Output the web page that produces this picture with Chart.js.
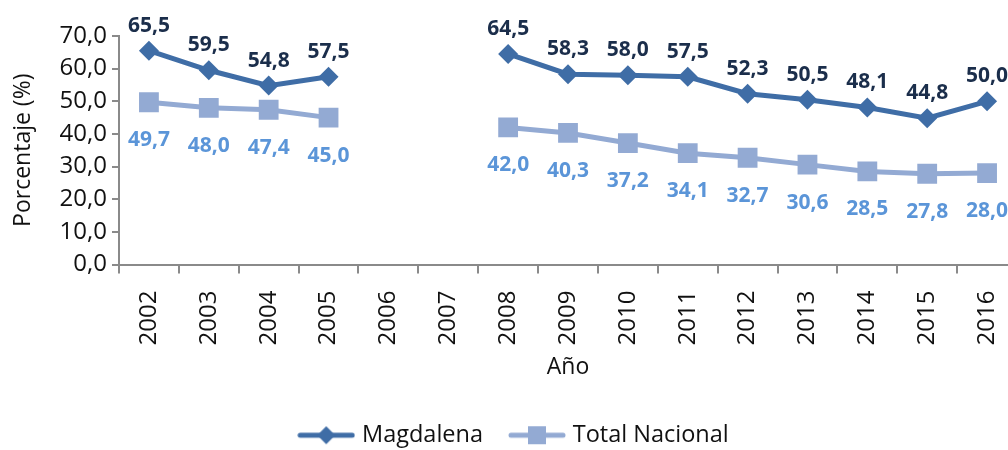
<!DOCTYPE html>
<html>
<head>
<meta charset="utf-8">
<script src="https://cdn.jsdelivr.net/npm/chart.js@4"></script>
<style>
  html, body { margin: 0; padding: 0; background: #fff; overflow: hidden; }
  #wrap { width: 1031px; height: 450px; }
</style>
</head>
<body>
<div id="wrap"><canvas id="chart" width="1031" height="450"></canvas></div>
<script>
// datos
const years = ["2002", "2003", "2004", "2005", "2006", "2007", "2008", "2009",
  "2010", "2011", "2012", "2013", "2014", "2015", "2016"];
const magdalena = [65.5, 59.5, 54.8, 57.5, null, null, 64.5, 58.3, 58.0, 57.5, 52.3, 50.5, 48.1, 44.8, 50.0];
const totalNacional = [49.7, 48.0, 47.4, 45.0, null, null, 42.0, 40.3, 37.2, 34.1, 32.7, 30.6, 28.5, 27.8, 28.0];
const yTicks = [0, 10, 20, 30, 40, 50, 60, 70];

const FONT = "'Open Sans', sans-serif";
const colMag = "#3F6DA6";
const colTot = "#93AAD3";

const fmt = v => v.toFixed(1).replace(".", ",");

// icono de leyenda: línea con marcador
function legendIcon(color, shape) {
  const c = document.createElement("canvas");
  c.width = 58; c.height = 22;
  const g = c.getContext("2d");
  g.strokeStyle = color;
  g.lineWidth = 5;
  g.lineCap = "round";
  g.beginPath(); g.moveTo(3, 11); g.lineTo(55, 11); g.stroke();
  g.fillStyle = color;
  g.beginPath();
  if (shape === "diamond") {
    g.moveTo(29, 2); g.lineTo(38, 11); g.lineTo(29, 20); g.lineTo(20, 11);
  } else {
    g.rect(20, 2, 18, 18);
  }
  g.closePath(); g.fill();
  return c;
}

// etiquetas de datos
const valueLabels = {
  id: "valueLabels",
  afterDatasetsDraw(chart) {
    const ctx = chart.ctx;
    ctx.save();
    ctx.textAlign = "center";
    ctx.textBaseline = "middle";
    ctx.font = "bold 21px " + FONT;
    chart.data.datasets.forEach((ds, i) => {
      const meta = chart.getDatasetMeta(i);
      meta.data.forEach((pt, j) => {
        const v = ds.data[j];
        if (v == null) return;
        ctx.fillStyle = ds.labelColor;
        ctx.fillText(fmt(v), pt.x, pt.y + ds.labelOffset);
      });
    });
    ctx.restore();
  }
};

new Chart(document.getElementById("chart"), {
  type: "line",
  data: {
    labels: years,
    datasets: [{
      label: "Magdalena",
      data: magdalena,
      borderColor: colMag,
      backgroundColor: colMag,
      borderWidth: 5,
      pointStyle: "rectRot",
      pointRadius: 10,
      pointBorderWidth: 0,
      spanGaps: false,
      labelColor: "#1B2E4B",
      labelOffset: -25
    }, {
      label: "Total Nacional",
      data: totalNacional,
      borderColor: colTot,
      backgroundColor: colTot,
      borderWidth: 5,
      pointStyle: "rect",
      pointRadius: 14,
      pointBorderWidth: 0,
      spanGaps: false,
      labelColor: "#5B95D8",
      labelOffset: 38
    }]
  },
  options: {
    responsive: false,
    animation: false,
    layout: { padding: { top: 36, left: 0, right: 0, bottom: -7 } },
    plugins: {
      tooltip: { enabled: false },
      legend: {
        position: "bottom",
        labels: {
          usePointStyle: true,
          pointStyleWidth: 48,
          color: "#111",
          font: { family: FONT, size: 23.5 },
          padding: 30,
          generateLabels(chart) {
            return chart.data.datasets.map((ds, i) => ({
              text: ds.label,
              pointStyle: legendIcon(ds.borderColor, i === 0 ? "diamond" : "square"),
              fillStyle: ds.borderColor,
              strokeStyle: ds.borderColor,
              lineWidth: 0,
              fontColor: "#111",
              datasetIndex: i
            }));
          }
        }
      }
    },
    scales: {
      x: {
        offset: true,
        grid: { offset: true, drawOnChartArea: false, tickLength: 9, color: "#8A8A8A", lineWidth: 2 },
        border: { color: "#8A8A8A", width: 2 },
        ticks: {
          color: "#111",
          font: { family: FONT, size: 24 },
          minRotation: 90,
          maxRotation: 90,
          padding: 17
        },
        title: {
          display: true,
          text: "Año",
          color: "#111",
          font: { family: FONT, size: 23 },
          padding: { top: 0, bottom: 12 }
        },
        afterFit(scale) {
          scale.height = 129;
          scale.paddingLeft = 0;
          scale.paddingRight = 0;
        }
      },
      y: {
        min: 0,
        max: 70,
        afterBuildTicks(scale) { scale.ticks = yTicks.map(v => ({ value: v })); },
        grid: { drawOnChartArea: false, tickLength: 7, color: "#8A8A8A", lineWidth: 2 },
        border: { color: "#8A8A8A", width: 2 },
        ticks: {
          color: "#111",
          font: { family: FONT, size: 24 },
          padding: 5,
          callback: v => fmt(v)
        },
        title: {
          display: true,
          text: "Porcentaje (%)",
          color: "#111",
          font: { family: FONT, size: 23 },
          padding: { top: 10, bottom: 4 }
        },
        afterFit(scale) { scale.width = 119; }
      }
    }
  },
  plugins: [valueLabels]
});
</script>
</body>
</html>
